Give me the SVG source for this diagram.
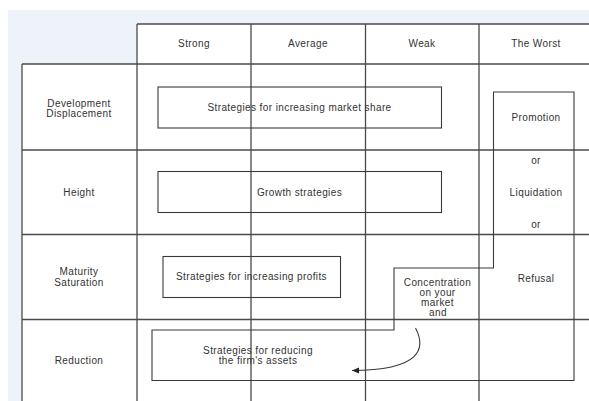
<svg xmlns="http://www.w3.org/2000/svg" width="589" height="401" viewBox="0 0 589 401">
  <style>
    .grid { stroke: #4a4a4a; stroke-width: 1.3; fill: none; }
    .box { stroke: #3a3a3a; stroke-width: 1.1; fill: none; }
    .conn { stroke: #3a3a3a; stroke-width: 1.1; fill: none; }
    text { font-family: "Liberation Sans", Arial, sans-serif; font-size: 10px; letter-spacing: 0.4px; fill: #333; text-anchor: middle; }
  </style>
  <defs>
    <marker id="arrow" markerWidth="8" markerHeight="8" refX="7" refY="4" orient="auto" markerUnits="userSpaceOnUse">
      <path d="M0,1 L7,4 L0,7 Z" fill="#222"/>
    </marker>
  </defs>

  <!-- page background -->
  <rect x="0" y="0" width="589" height="401" fill="#ffffff"/>
  <rect x="8" y="10" width="581" height="391" fill="#eef2f9"/>
  <!-- table body -->
  <rect x="137" y="24" width="452" height="377" fill="#ffffff"/>
  <rect x="22" y="64" width="115" height="337" fill="#ffffff"/>

  <!-- table grid -->
  <g id="grid" class="grid">
    <line x1="137" y1="24" x2="589" y2="24"/>
    <line x1="22" y1="64" x2="589" y2="64"/>
    <line x1="22" y1="150" x2="589" y2="150"/>
    <line x1="22" y1="234.5" x2="589" y2="234.5"/>
    <line x1="22" y1="319.5" x2="589" y2="319.5"/>
    <line x1="22" y1="64" x2="22" y2="401"/>
    <line x1="137" y1="24" x2="137" y2="401"/>
    <line x1="251" y1="24" x2="251" y2="401"/>
    <line x1="365.5" y1="24" x2="365.5" y2="401"/>
    <line x1="479" y1="24" x2="479" y2="401"/>
  </g>

  <!-- column headers -->
  <g id="headers">
    <text x="194" y="47">Strong</text>
    <text x="308" y="47">Average</text>
    <text x="422" y="47">Weak</text>
    <text x="536" y="47">The Worst</text>
  </g>

  <!-- row headers -->
  <g id="rows">
    <text x="79" y="106.5">Development</text>
    <text x="79" y="116.5">Displacement</text>
    <text x="79" y="196">Height</text>
    <text x="79" y="275">Maturity</text>
    <text x="79" y="285.5">Saturation</text>
    <text x="79" y="364">Reduction</text>
  </g>

  <g id="market-share">
    <rect class="box" x="158" y="87" width="283.5" height="41"/>
    <text x="299.5" y="110.5">Strategies for increasing market share</text>
  </g>

  <g id="growth">
    <rect class="box" x="158" y="171.5" width="283.5" height="41"/>
    <text x="299.5" y="196">Growth strategies</text>
  </g>

  <g id="profits">
    <rect class="box" x="163" y="256.5" width="177.5" height="41"/>
    <text x="251.5" y="280">Strategies for increasing profits</text>
  </g>

  <!-- composite outline: worst column, concentration cell, asset reduction -->
  <g id="exit-strategies">
    <path class="box" d="M493.5,92 L574,92 L574,380.5 L152,380.5 L152,330 L394,330 L394,268 L493.5,268 Z"/>
    <text x="536" y="120.5">Promotion</text>
    <text x="536" y="164">or</text>
    <text x="536" y="196">Liquidation</text>
    <text x="536" y="228">or</text>
    <text x="536" y="281.5">Refusal</text>
    <text x="437.5" y="285.5">Concentration</text>
    <text x="437.5" y="295.5">on your</text>
    <text x="437.5" y="305.5">market</text>
    <text x="438" y="315.5">and</text>
    <text x="258" y="353.5">Strategies for reducing</text>
    <text x="258" y="363.5">the firm's assets</text>
  </g>

  <g id="connectors">
    <path class="conn" d="M415.5,328 C426,348 422,370 352,370.5" marker-end="url(#arrow)"/>
  </g>
</svg>
